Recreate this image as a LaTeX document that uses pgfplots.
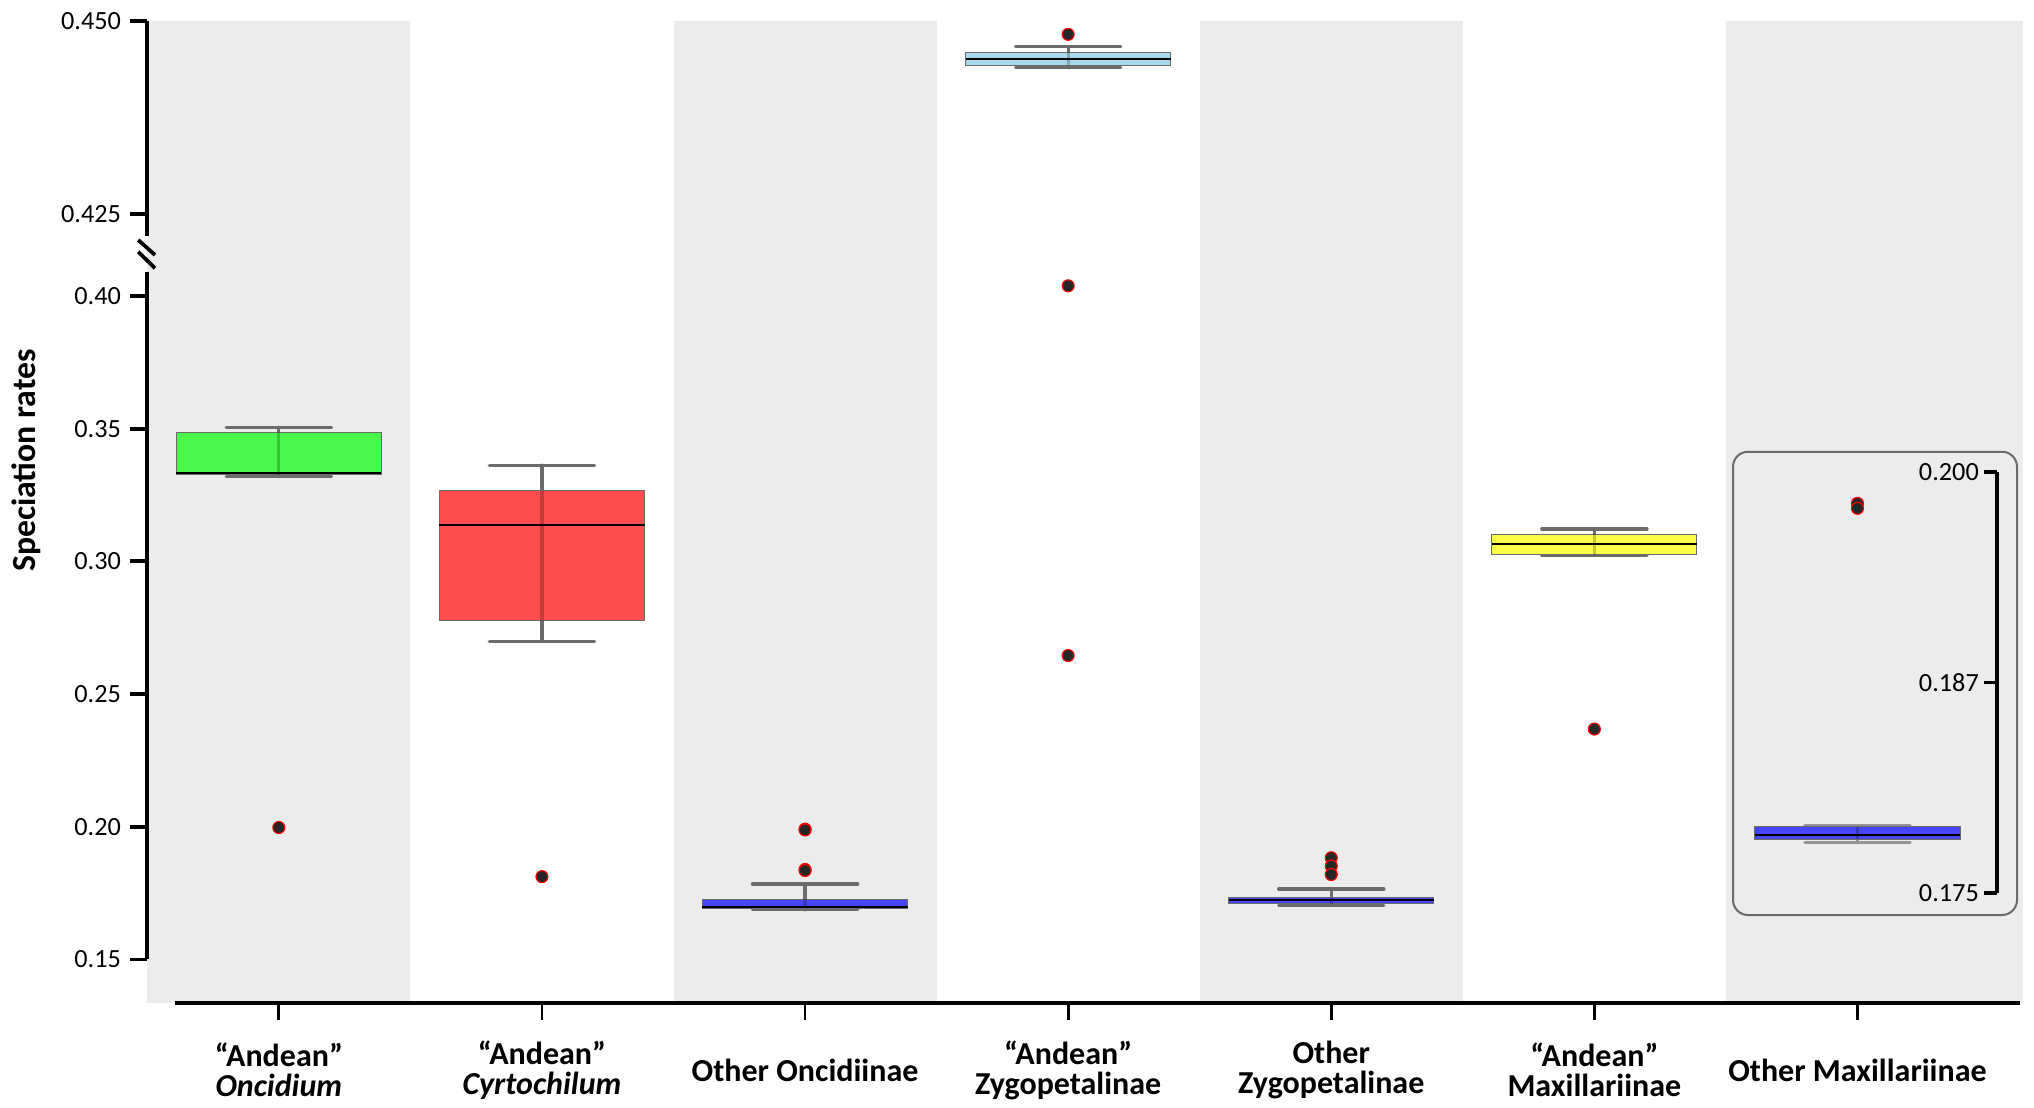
\documentclass[border=0pt]{standalone}
\usepackage{fontspec}
\setmainfont{Carlito}
\usepackage{pgfplots}
\pgfplotsset{compat=1.18}
\usepgfplotslibrary{statistics}
\definecolor{band}{RGB}{236,236,236}
\definecolor{wgray}{RGB}{107,107,107}
\definecolor{cgreen}{RGB}{72,248,76}
\definecolor{cred}{RGB}{255,76,76}
\definecolor{cblue}{RGB}{70,70,246}
\definecolor{clblue}{RGB}{166,216,238}
\definecolor{cyellow}{RGB}{255,255,72}
\pgfplotsset{
  out/.style={mark=*, mark size=2.4pt, mark options={fill=black!85, draw=red, line width=0.45pt}},
  common/.style={scale only axis, axis line style={draw=none}, clip=false,
    /pgf/number format/assume math mode=true,
    tick label style={font=\fontsize{10.5}{12}\selectfont},
    major tick style={black, line width=1.5pt}, tick align=outside, major tick length=7pt},
  boxplot/every whisker/.style={draw=wgray, line width=1.3pt, line cap=round},
  boxplot/every median/.style={draw=black, line width=0.75pt},
  stripe/.style={draw=black, draw opacity=0.22, line width=1.3pt, forget plot},
}
\begin{document}
\begin{tikzpicture}
\useasboundingbox (0,0) rectangle (813.6pt,442.8pt);
% ---------- lower axis ----------
\begin{axis}[common, at={(58.92pt,41.72pt)}, anchor=south west,
  width=750.36pt, height=301.08pt, xmin=-0.5, xmax=6.63, ymin=0.1337, ymax=0.4173,
  axis x line*=bottom, axis y line*=left,
  xtick={0,1,2,3,4,5,6},
  xtick style={line width=1.1pt},
  xticklabels={{“Andean”\\\textit{Oncidium}},{“Andean”\\\textit{Cyrtochilum}},{Other Oncidiinae},{“Andean”\\Zygopetalinae},{Other\\Zygopetalinae},{“Andean”\\Maxillariinae},{Other Maxillariinae}},
  xticklabel style={font=\bfseries\fontsize{12.8}{12}\selectfont, align=center, anchor=center, yshift=-20pt},
  ytick={0.15,0.20,0.25,0.30,0.35,0.40},
  yticklabels={0.15,0.20,0.25,0.30,0.35,0.40}]
\fill[band] (axis cs:-0.5,0.1337) rectangle (axis cs:0.5,0.4173);
\fill[band] (axis cs:1.5,0.1337) rectangle (axis cs:2.5,0.4173);
\fill[band] (axis cs:3.5,0.1337) rectangle (axis cs:4.5,0.4173);
\fill[band] (axis cs:5.5,0.1337) rectangle (axis cs:6.63,0.4173);
\draw[line width=1.6pt] (axis cs:-0.395,0.1337) -- (axis cs:6.617,0.1337);
\draw[line width=1.5pt] (axis cs:-0.5,0.15) -- (axis cs:-0.5,0.40916);
% Andean Oncidium
\addplot[out, boxplot prepared={draw direction=y, draw position=0, lower whisker=0.3319, lower quartile=0.3326,
  median=0.3332, upper quartile=0.3486, upper whisker=0.3505, box extend=0.78, whisker extend=0.4,
  every box/.style={fill=cgreen, draw=wgray, line width=0.4pt}}] coordinates {(0,0.1997)};
\addplot[stripe] coordinates {(0,0.3326) (0,0.3486)};
% Andean Cyrtochilum
\addplot[out, boxplot prepared={draw direction=y, draw position=1, lower whisker=0.2698, lower quartile=0.2777,
  median=0.3136, upper quartile=0.3265, upper whisker=0.3362, box extend=0.78, whisker extend=0.4,
  every box/.style={fill=cred, draw=wgray, line width=0.4pt}}] coordinates {(1,0.1812)};
\addplot[stripe] coordinates {(1,0.2777) (1,0.3265)};
% Other Oncidiinae
\addplot[out, boxplot prepared={draw direction=y, draw position=2, lower whisker=0.1687, lower quartile=0.1693,
  median=0.1697, upper quartile=0.1727, upper whisker=0.1784, box extend=0.78, whisker extend=0.4,
  every box/.style={fill=cblue, draw=wgray, line width=0.4pt}}] coordinates {(2,0.1991) (2,0.1988) (2,0.1839) (2,0.1835)};
\addplot[stripe] coordinates {(2,0.1693) (2,0.1727)};
% Andean Zygopetalinae (outliers below the break)
\addplot[out, only marks] coordinates {(3,0.4038) (3,0.2645)};
% Other Zygopetalinae
\addplot[out, boxplot prepared={draw direction=y, draw position=4, lower whisker=0.1703, lower quartile=0.1709,
  median=0.1724, upper quartile=0.1733, upper whisker=0.1765, box extend=0.78, whisker extend=0.4,
  every box/.style={fill=cblue, draw=wgray, line width=0.4pt}}] coordinates {(4,0.1883) (4,0.1852) (4,0.1820)};
\addplot[stripe] coordinates {(4,0.1709) (4,0.1733)};
% Andean Maxillariinae
\addplot[out, boxplot prepared={draw direction=y, draw position=5, lower whisker=0.3021, lower quartile=0.3024,
  median=0.3064, upper quartile=0.3102, upper whisker=0.3122, box extend=0.78, whisker extend=0.4,
  every box/.style={fill=cyellow, draw=wgray, line width=0.4pt}}] coordinates {(5,0.2368)};
\addplot[stripe] coordinates {(5,0.3024) (5,0.3102)};
\end{axis}
% ---------- upper axis ----------
\begin{axis}[common, at={(58.92pt,342.8pt)}, anchor=south west,
  width=750.36pt, height=91.68pt, xmin=-0.5, xmax=6.63, ymin=0.42036, ymax=0.450,
  axis y line*=left, axis x line=none, xtick=\empty,
  ytick={0.425,0.450}, yticklabels={0.425,0.450}]
\fill[band] (axis cs:-0.5,0.42036) rectangle (axis cs:0.5,0.450);
\fill[band] (axis cs:1.5,0.42036) rectangle (axis cs:2.5,0.450);
\fill[band] (axis cs:3.5,0.42036) rectangle (axis cs:4.5,0.450);
\fill[band] (axis cs:5.5,0.42036) rectangle (axis cs:6.63,0.450);
\draw[line width=1.5pt] (axis cs:-0.5,0.42217) -- (axis cs:-0.5,0.450);
\addplot[out, boxplot prepared={draw direction=y, draw position=3, lower whisker=0.44393, lower quartile=0.44425,
  median=0.44507, upper quartile=0.44594, upper whisker=0.44665, box extend=0.78, whisker extend=0.4,
  every box/.style={fill=clblue, draw=wgray, line width=0.4pt}}] coordinates {(3,0.44825)};
\addplot[stripe] coordinates {(3,0.44425) (3,0.44594)};
\end{axis}
% break marks
\draw[line width=1.5pt] (55.3pt,346.8pt) -- (62pt,340.8pt);
\draw[line width=1.5pt] (55.3pt,342.1pt) -- (62pt,335.5pt);
% y label
\node[rotate=90, font=\bfseries\fontsize{13.5}{14}\selectfont] at (10.4pt,258.6pt) {Speciation rates};
% inset frame
\draw[rounded corners=6pt, draw=wgray, line width=0.8pt] (693.2pt,76.8pt) rectangle (806.8pt,262.1pt);
% ---------- inset axis (Other Maxillariinae, own scale) ----------
\begin{axis}[common, at={(690.36pt,85.48pt)}, anchor=south west,
  width=108.4pt, height=168.64pt, xmin=-0.5, xmax=0.53, ymin=0.175, ymax=0.200,
  axis y line*=right, axis x line=none, xtick=\empty,
  ytick={0.175,0.1875,0.200}, yticklabels={0.175,0.187,0.200},
  tick align=inside, major tick length=5.3pt,
  yticklabel style={anchor=east, xshift=-3.7pt},
  boxplot/every whisker/.style={draw=black!42, line width=1.3pt, line cap=round}]
\draw[line width=1.5pt] (axis cs:0.53,0.175) -- (axis cs:0.53,0.200);
\addplot[out, boxplot prepared={draw direction=y, draw position=0, lower whisker=0.1780, lower quartile=0.1782,
  median=0.17846, upper quartile=0.17895, upper whisker=0.1790, box extend=0.78, whisker extend=0.4,
  every box/.style={fill=cblue, draw=wgray, line width=0.4pt}}] coordinates {(0,0.19812) (0,0.19783)};
\addplot[stripe] coordinates {(0,0.1782) (0,0.17895)};
\end{axis}
\end{tikzpicture}
\end{document}
